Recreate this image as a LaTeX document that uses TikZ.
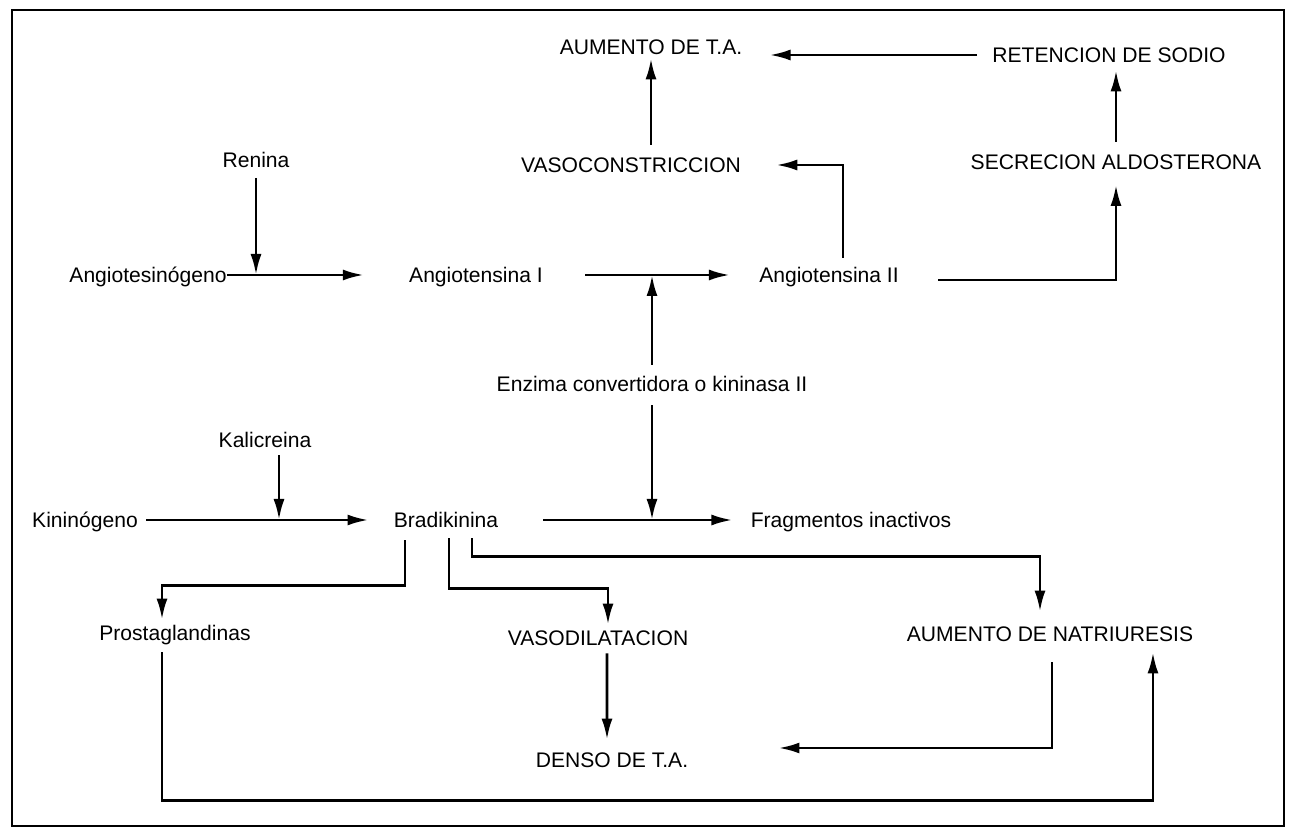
\documentclass[tikz,border=0pt]{standalone}
\usepackage{fontspec}
\setmainfont{Liberation Sans}
\usetikzlibrary{arrows.meta}

\tikzset{
  txt/.style={font=\fontsize{12}{14}\selectfont, inner sep=0pt, text height=8.6pt, text depth=0pt},
  flecha/.style={-{Latex[length=4.2mm,width=2.2mm]}, line width=1.6pt}
}

\begin{document}
\begin{tikzpicture}[x=0.02cm,y=-0.02cm]
    \useasboundingbox (0,0) rectangle (1296,830);
    \draw[line width=1.2pt] (12,10) rectangle (1284,826);

    \coordinate (P1) at (651, 47);
    \coordinate (P2) at (1109, 55);
    \coordinate (P3) at (631, 165);
    \coordinate (P4) at (1116, 162);
    \coordinate (P5) at (256, 160);
    \coordinate (P6) at (148, 275);
    \coordinate (P7) at (476, 275);
    \coordinate (P8) at (829, 275);
    \coordinate (P9) at (652, 384);
    \coordinate (P10) at (265, 440);
    \coordinate (P11) at (85, 520);
    \coordinate (P12) at (446, 520);
    \coordinate (P13) at (851, 520);
    \coordinate (P14) at (175, 633);
    \coordinate (P15) at (598, 638);
    \coordinate (P16) at (1050, 634);
    \coordinate (P17) at (612, 760);

    \node[txt] (aumento) at (P1) {AUMENTO DE T.A.};
    \node[txt] (retencion) at (P2) {RETENCION DE SODIO};
    \node[txt] (vasoc) at (P3) {VASOCONSTRICCION};
    \node[txt] (secrecion) at (P4) {SECRECION ALDOSTERONA};
    \node[txt] (renina) at (P5) {Renina};
    \node[txt] (angtg) at (P6) {Angiotesinógeno};
    \node[txt] (angI) at (P7) {Angiotensina I};
    \node[txt] (angII) at (P8) {Angiotensina II};
    \node[txt] (enzima) at (P9) {Enzima convertidora o kininasa II};
    \node[txt] (kalic) at (P10) {Kalicreina};
    \node[txt] (kinin) at (P11) {Kininógeno};
    \node[txt] (brad) at (P12) {Bradikinina};
    \node[txt] (frag) at (P13) {Fragmentos inactivos};
    \node[txt] (prosta) at (P14) {Prostaglandinas};
    \node[txt] (vasod) at (P15) {VASODILATACION};
    \node[txt] (natri) at (P16) {AUMENTO DE NATRIURESIS};
    \node[txt] (denso) at (P17) {DENSO DE T.A.};

    \coordinate (K) at (279, 520);

    % sistema renina-angiotensina
    \draw[flecha, shorten <=0.2cm] (renina.south) -- (renina |- angtg);
    \draw[flecha, shorten >=0.9cm] (angtg.east) -- (angI.west);
    \draw[flecha, shorten <=0.84cm, shorten >=0.58cm] (angI.east) -- (angII.west);
    \draw[flecha, shorten >=0.7cm] ([xshift=0.28cm,yshift=0.19cm]angII.north) |- (vasoc.east);
    \draw[flecha, shorten <=0.25cm, shorten >=0.07cm] (aumento |- vasoc.north) -- (aumento.south);
    \draw[flecha, shorten <=0.3cm, shorten >=0.54cm] (retencion.west) -- (aumento.east |- retencion.west);
    \draw[flecha, shorten >=0.3cm] ([xshift=0.78cm,yshift=-0.1cm]angII.east) -| (secrecion.south);
    \draw[flecha, shorten <=0.25cm, shorten >=0.15cm] (secrecion.north) -- (secrecion.north |- retencion.south);

    % enzima
    \draw[flecha, shorten <=0.23cm] (enzima.north) -- (enzima |- angI);
    \draw[flecha, shorten <=0.27cm] (enzima.south) -- (enzima |- brad);

    % sistema kalicreina-kinina
    \draw[flecha, shorten <=0.16cm, shorten >=0.5cm] (kinin.east) -- (brad.west);
    \draw[flecha, shorten <=0.15cm] (kalic.south -| K) -- (K);
    \draw[flecha, shorten <=0.9cm, shorten >=0.36cm] (brad.east) -- (frag.west);
    \draw[flecha] ([xshift=-0.82cm,yshift=-0.25cm]brad.south) -- ++(0,45) -| ([xshift=-0.26cm,yshift=0.11cm]prosta.north);
    \draw[flecha] ([xshift=0.06cm,yshift=-0.21cm]brad.south) -- ++(0,50) -| ([xshift=0.2cm,yshift=0.11cm]vasod.north);
    \draw[flecha] ([xshift=0.52cm,yshift=-0.21cm]brad.south) -- ++(0,18) -| ([xshift=-0.2cm,yshift=0.29cm]natri.north);
    \draw[flecha] ([xshift=0.18cm,yshift=-0.15cm]vasod.south) -- ([xshift=-0.1cm,yshift=0.25cm]denso.north);
    \draw[flecha] ([xshift=0.04cm,yshift=-0.41cm]natri.south) |- ([xshift=1.8cm,yshift=0.24cm]denso.east);
    \draw[flecha] ([xshift=-0.26cm,yshift=-0.23cm]prosta.south) -- ++(0,148) -| ([xshift=2.06cm,yshift=-0.21cm]natri.south);

\end{tikzpicture}
\end{document}
